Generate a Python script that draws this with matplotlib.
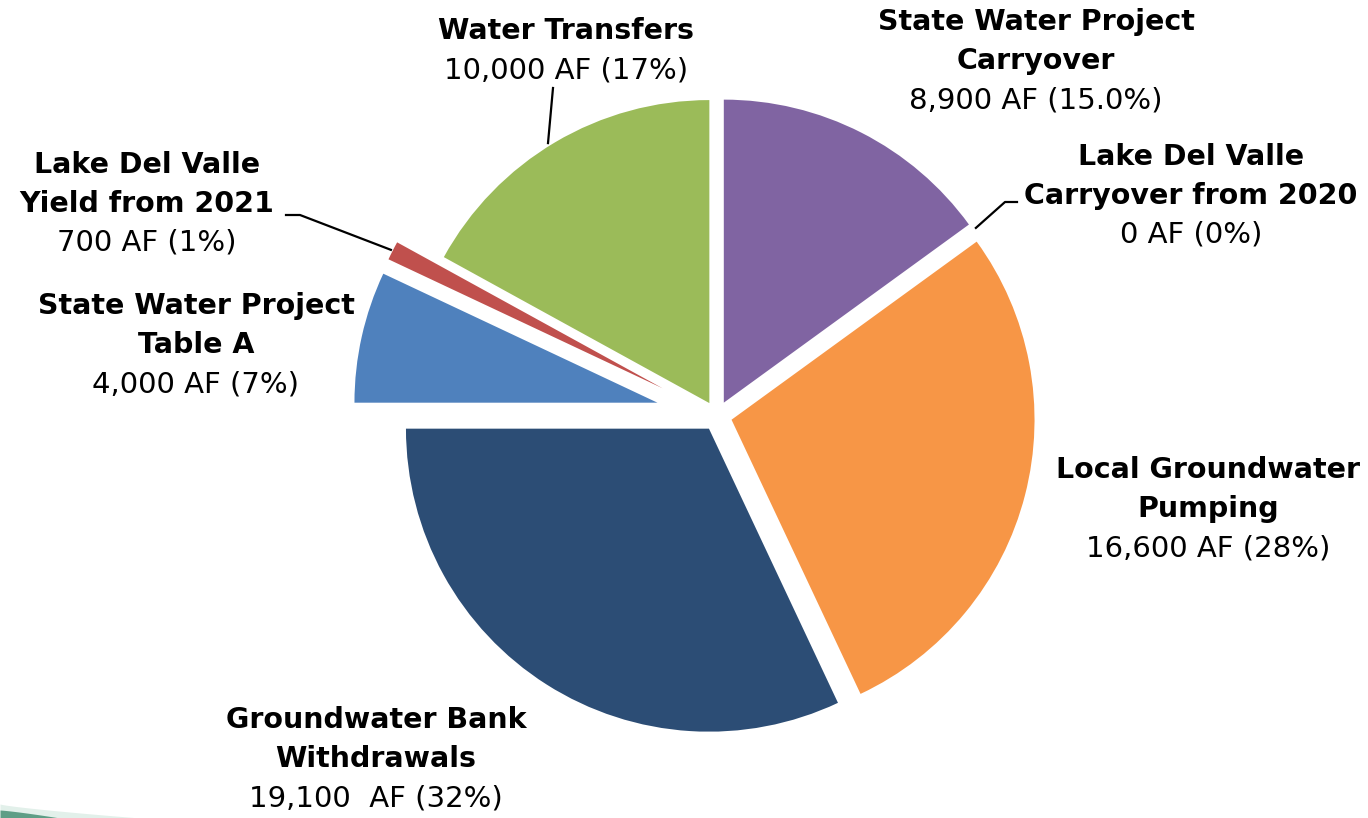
import matplotlib
matplotlib.use("Agg")
import matplotlib.pyplot as plt
import numpy as np

# ---- data ----
categories = ["State Water Project\nCarryover",
              "Lake Del Valle\nCarryover from 2020",
              "Local Groundwater\nPumping",
              "Groundwater Bank\nWithdrawals",
              "State Water Project\nTable A",
              "Lake Del Valle\nYield from 2021",
              "Water Transfers"]
values_af = [8900, 0, 16600, 19100, 4000, 700, 10000]
share_pct = [15.0, 0, 28, 32, 7, 1, 17]
value_labels = ["8,900 AF (15.0%)", "0 AF (0%)", "16,600 AF (28%)",
                "19,100  AF (32%)", "4,000 AF (7%)", "700 AF (1%)",
                "10,000 AF (17%)"]
colors = ["#8064A2", "#4BACC6", "#F79646", "#2C4D75", "#4F81BD", "#C0504D", "#9BBB59"]

W, H = 1368, 818
fig = plt.figure(figsize=(W / 100, H / 100), dpi=100)
ax = fig.add_axes([0, 0, 1, 1])

cx, cy = 717, H - 416
R = 303
explode = [15, 15, 15, 15, 61, 61, 15]

wedges, _ = ax.pie(share_pct, explode=explode, colors=colors, startangle=90,
                   counterclock=False, radius=R, center=(cx, cy),
                   normalize=True,
                   wedgeprops=dict(linewidth=0, antialiased=True))
ax.set_xlim(0, W)
ax.set_ylim(0, H)
ax.set_aspect("equal")
ax.axis("off")

FS_B = 20.5
FS_N = 21


def label(x, ys, lines):
    for y, (t, b) in zip(ys, lines):
        ax.text(x, H - y, t, ha="center", va="baseline",
                fontsize=FS_B if b else FS_N,
                fontweight="bold" if b else "normal",
                family="DejaVu Sans", color="black")


def title_lines(i):
    return [(s, True) for s in categories[i].split("\n")] + [(value_labels[i], False)]


label(1036, [30, 69, 108], title_lines(0))
label(1191, [165, 204, 243], title_lines(1))
label(1208, [478, 517, 557], title_lines(2))
label(376, [728, 767, 806], title_lines(3))
label(196, [314, 353, 392], title_lines(4))
label(147, [173, 212, 251], title_lines(5))
label(566, [39, 78], title_lines(6))


def wedge_edge(i, frac, r):
    w = wedges[i]
    ang = np.deg2rad(w.theta1 + frac * (w.theta2 - w.theta1))
    return (w.center[0] + r * np.cos(ang), w.center[1] + r * np.sin(ang))


# leader lines
p = wedge_edge(6, 0.52, R + 3)
ax.plot([553, p[0]], [H - 88, p[1]], color="black", lw=1.6)

p = wedge_edge(5, 0.5, R + 2)
ax.plot([286, 300, p[0]], [H - 215, H - 215, p[1]], color="black", lw=1.6)

p = wedge_edge(1, 0.5, R + 2)
ax.plot([p[0], 1005, 1017], [p[1], H - 202, H - 202], color="black", lw=1.6)

# decorative swoosh at bottom-left
xs = np.linspace(0, 140, 80)
light_top = H - (804 + 14 * (xs / 140) ** 0.8)
ax.fill_between(xs, 0, light_top, color="#CFE6DC", alpha=0.6, lw=0)
xd = np.linspace(0, 60, 60)
dark_top = H - (810 + 8 * (xd / 60) ** 1.2)
ax.fill_between(xd, 0, dark_top, color="#5E9E86", lw=0)

fig.savefig("out.png", dpi=100, facecolor="white")
